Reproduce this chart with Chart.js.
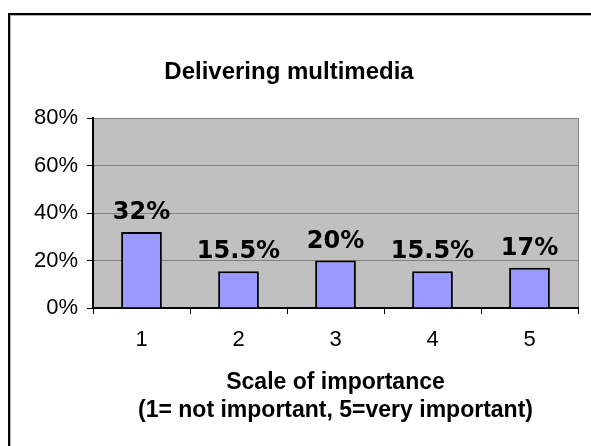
<!DOCTYPE html>
<html>
<head>
<meta charset="utf-8">
<script src="https://cdn.jsdelivr.net/npm/chart.js@4.4.0/dist/chart.umd.min.js"></script>
<style>
  html, body { margin: 0; padding: 0; background: #fff; }
  canvas { display: block; }
</style>
</head>
<body>
<canvas id="importanceChart" width="591" height="446"></canvas>
<script>
(() => {
  'use strict'

  const categories = ['1', '2', '3', '4', '5']
  const shares = [32, 15.5, 20, 15.5, 17]
  const yTicks = [0, 20, 40, 60, 80]

  const arial = '"Liberation Sans", Arial, sans-serif'

  // grey plot area behind the bars, plus the outer frame of the chart object
  const backdrop = {
    id: 'backdrop',
    beforeDraw (chart) {
      const { ctx, chartArea: a } = chart
      ctx.save()
      ctx.fillStyle = '#fff'
      ctx.fillRect(0, 0, chart.width, chart.height)
      ctx.fillStyle = '#c0c0c0'
      ctx.fillRect(a.left, a.top, a.right - a.left, a.bottom - a.top)
      ctx.strokeStyle = '#808080'
      ctx.lineWidth = 1
      ctx.beginPath()
      ctx.moveTo(a.left, a.top + 0.5)
      ctx.lineTo(a.right + 0.5, a.top + 0.5)
      ctx.lineTo(a.right + 0.5, a.bottom)
      ctx.stroke()
      // frame
      ctx.strokeStyle = '#b0b0b0'
      ctx.beginPath()
      ctx.moveTo(10.5, chart.height)
      ctx.lineTo(10.5, 15.5)
      ctx.lineTo(chart.width, 15.5)
      ctx.stroke()
      ctx.strokeStyle = '#000'
      ctx.lineWidth = 2
      ctx.beginPath()
      ctx.moveTo(9, chart.height)
      ctx.lineTo(9, 14)
      ctx.lineTo(chart.width, 14)
      ctx.stroke()
      ctx.restore()
    }
  }

  // value labels above each bar
  const valueLabels = {
    id: 'valueLabels',
    afterDatasetsDraw (chart) {
      const { ctx } = chart
      const meta = chart.getDatasetMeta(0)
      ctx.save()
      ctx.font = 'bold 24px "DejaVu Sans", Verdana, sans-serif'
      ctx.fillStyle = '#000'
      ctx.textAlign = 'center'
      ctx.textBaseline = 'alphabetic'
      meta.data.forEach((bar, i) => {
        ctx.fillText(shares[i] + '%', bar.x, bar.y - 13)
      })
      ctx.restore()
    }
  }

  const ctx = document.getElementById('importanceChart')
  // eslint-disable-next-line no-unused-vars
  const importanceChart = new Chart(ctx, {
    type: 'bar',
    data: {
      labels: categories,
      datasets: [
        {
          data: shares,
          backgroundColor: '#9999ff',
          borderColor: '#000',
          borderWidth: 2,
          borderSkipped: 'bottom',
          categoryPercentage: 0.42,
          barPercentage: 1
        }
      ]
    },
    options: {
      responsive: false,
      animation: false,
      devicePixelRatio: 1,
      layout: {
        padding: { left: 0, top: 0, right: 13, bottom: 0 }
      },
      plugins: {
        legend: { display: false },
        tooltip: { enabled: false },
        title: {
          display: true,
          text: 'Delivering multimedia',
          color: '#000',
          font: { family: arial, size: 24, weight: 'bold', lineHeight: 1.2 },
          padding: { top: 58, bottom: 31.2 }
        }
      },
      scales: {
        x: {
          grid: {
            offset: true,
            drawOnChartArea: false,
            drawTicks: true,
            tickLength: 6,
            tickColor: '#000'
          },
          border: { color: '#000', width: 2 },
          ticks: {
            padding: 13,
            color: '#000',
            font: { family: arial, size: 22 }
          },
          title: {
            display: true,
            text: ['Scale of importance', '(1= not important, 5=very important)'],
            color: '#000',
            font: { family: arial, size: 23, weight: 'bold', lineHeight: 1.22 },
            padding: { top: 0, bottom: 21 }
          },
          afterFit (scale) {
            scale.height = 138
          }
        },
        y: {
          min: 0,
          max: 80,
          afterBuildTicks (scale) {
            scale.ticks = yTicks.map(v => ({ value: v }))
          },
          grid: {
            color: '#808080',
            lineWidth: 1,
            tickLength: 6,
            tickColor: '#000'
          },
          border: { color: '#000', width: 2 },
          ticks: {
            padding: 9,
            color: '#000',
            font: { family: arial, size: 22 },
            callback: v => v + '%'
          },
          afterFit (scale) {
            scale.width = 93
          }
        }
      }
    },
    plugins: [backdrop, valueLabels]
  })
})()
</script>
</body>
</html>
